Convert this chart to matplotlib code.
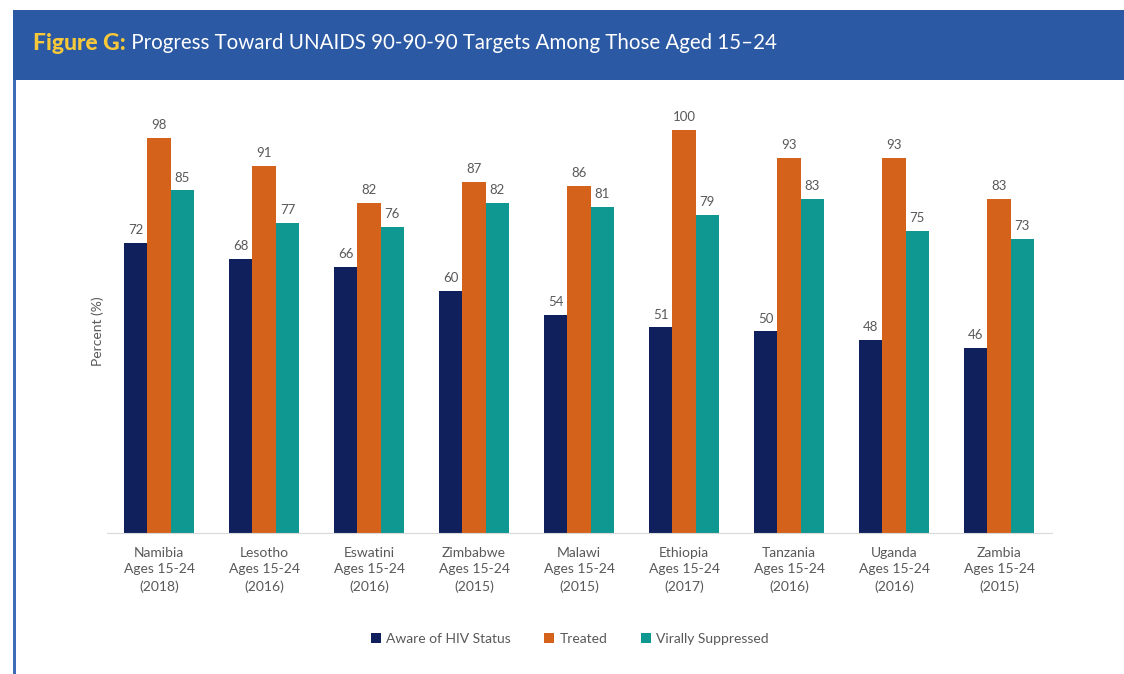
import numpy as np
import matplotlib
matplotlib.use("Agg")
import matplotlib.pyplot as plt
from matplotlib.patches import Rectangle

plt.rcParams["font.family"] = ["Lato", "DejaVu Sans"]

# datos
countries = ["Namibia", "Lesotho", "Eswatini", "Zimbabwe", "Malawi",
             "Ethiopia", "Tanzania", "Uganda", "Zambia"]
years = ["2018", "2016", "2016", "2015", "2015", "2017", "2016", "2016", "2015"]
aware = [72, 68, 66, 60, 54, 51, 50, 48, 46]
treated = [98, 91, 82, 87, 86, 100, 93, 93, 83]
suppressed = [85, 77, 76, 82, 81, 79, 83, 75, 73]
series_names = ["Aware of HIV Status", "Treated", "Virally Suppressed"]
tick_labels = [f"{c}\nAges 15-24\n({y})" for c, y in zip(countries, years)]

colors = ["#10205C", "#D4621A", "#0F9791"]
HEADER = "#2B59A3"
TEXT_GRAY = "#595959"

W, H = 1124, 674
fig = plt.figure(figsize=(W / 100, H / 100), dpi=100)
fig.patch.set_facecolor("white")

# cabecera azul y borde izquierdo
fig.add_artist(Rectangle((13 / W, 1 - 80 / H), 1 - 13 / W, 70 / H,
                         transform=fig.transFigure, color=HEADER, lw=0))
fig.add_artist(Rectangle((13 / W, 0), 3 / W, 1 - 80 / H,
                         transform=fig.transFigure, color="#3D6CB8", lw=0))

ax = fig.add_axes([106.6 / W, 141 / H, (1051.5 - 106.6) / W, 403 / H])
x = np.arange(len(countries))
bw = 0.222
for i, (vals, name) in enumerate(zip([aware, treated, suppressed], series_names)):
    bars = ax.bar(x + (i - 1) * bw, vals, bw, color=colors[i], label=name)
    for b, v in zip(bars, vals):
        ax.annotate(f"{v}", xy=(b.get_x() + b.get_width() / 2, v),
                    xytext=(0, 5), textcoords="offset points",
                    ha="center", va="bottom", fontsize=9.5, color=TEXT_GRAY)

ax.set_xlim(-0.5, len(countries) - 0.5)
ax.set_ylim(0, 100)
ax.set_xticks(x)
ax.set_xticklabels(tick_labels, fontsize=10, color=TEXT_GRAY, linespacing=1.45)
ax.tick_params(axis="x", length=0, pad=10)
ax.set_yticks([])
for s in ["top", "right", "left"]:
    ax.spines[s].set_visible(False)
ax.spines["bottom"].set_color("#D9D9D9")
ax.set_ylabel("Percent (%)", fontsize=10, color=TEXT_GRAY, labelpad=2)

fig.legend(loc="center", bbox_to_anchor=(570 / W, 1 - 639 / H), ncol=3,
           frameon=False, fontsize=10, handlelength=0.7, handleheight=0.7,
           handletextpad=0.4, columnspacing=2.4, labelcolor=TEXT_GRAY)

# título
t1 = fig.text(33 / W, 1 - 43 / H, "Figure G:", fontsize=16.5, fontweight="black",
              color="#F6C83A", va="center", ha="left")
fig.canvas.draw()
x_end = t1.get_window_extent().x1 / W
fig.text(x_end, 1 - 43 / H,
         " Progress Toward UNAIDS 90-90-90 Targets Among Those Aged 15\u201324",
         fontsize=14.8, color="white", va="center", ha="left")

fig.savefig("out.png", dpi=100)
